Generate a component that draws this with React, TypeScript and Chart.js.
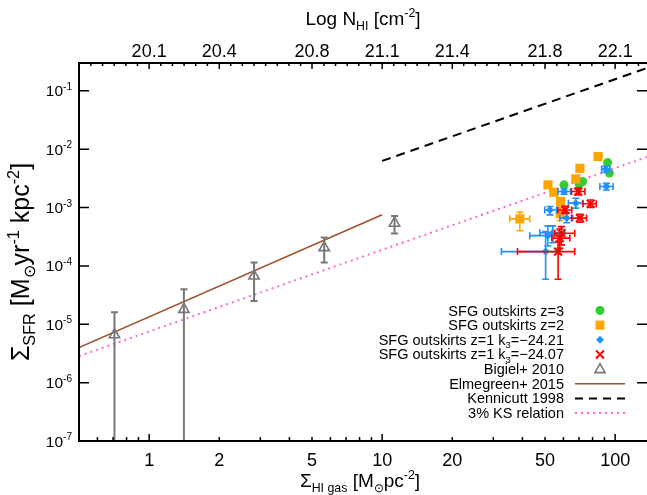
import React, { useEffect, useRef } from 'react';
import { Chart, registerables } from 'chart.js';

Chart.register(...registerables);

const FONT = '"Liberation Sans", Arial, Helvetica, sans-serif';

// ---------- data ----------
// Bigiel+ 2010
const bigielX = [0.71, 1.41, 2.82, 5.64, 11.3];
const bigielY = [6.6e-6, 1.8e-5, 6.7e-5, 2.06e-4, 5.4e-4];
const bigielYLo = [1e-9, 1e-9, 2.5e-5, 1.14e-4, 3.6e-4];
const bigielYHi = [1.6e-5, 4.0e-5, 1.14e-4, 3.06e-4, 7.2e-4];

// SFG outskirts z=3
const z3X = [92.8, 94.5, 60.3, 72.5, 70.2];
const z3Y = [5.9e-3, 3.9e-3, 2.45e-3, 2.8e-3, 2.5e-3];

// SFG outskirts z=2
const z2X = [84.5, 70.6, 67.8, 51.5, 54.6, 58.3, 58.1, 39.0];
const z2Y = [7.5e-3, 4.7e-3, 3.1e-3, 2.45e-3, 1.83e-3, 1.27e-3, 7.9e-4, 6.4e-4];
const z2XLo = [null, null, null, null, null, null, null, 35.3];
const z2XHi = [null, null, null, null, null, null, null, 43.0];
const z2YLo = [null, null, null, null, null, null, 6.0e-4, 4.0e-4];
const z2YHi = [null, null, null, null, null, null, 1.0e-3, 8.3e-4];

// SFG outskirts z=1 k3=-24.21
const k21X = [91.2, 91.7, 60.4, 67.8, 52.5, 61.9, 51.4, 54.0, 50.3];
const k21Y = [4.55e-3, 2.29e-3, 1.88e-3, 1.19e-3, 9.1e-4, 6.6e-4, 3.3e-4, 3.7e-4, 1.76e-4];
const k21XLo = [87.5, 86.0, 56.9, 63.0, 49.9, 57.9, 43.0, 47.5, 32.5];
const k21XHi = [95.0, 98.0, 64.3, 72.5, 56.1, 65.7, 57.9, 60.8, 57.9];
const k21YLo = [4.0e-3, 2.0e-3, 1.7e-3, 9.8e-4, 7.5e-4, 5.5e-4, 2.2e-4, 2.5e-4, 5.9e-5];
const k21YHi = [5.1e-3, 2.6e-3, 2.1e-3, 1.44e-3, 1.04e-3, 8.1e-4, 4.85e-4, 4.85e-4, 3.87e-4];

// SFG outskirts z=1 k3=-24.07
const k07X = [69.4, 78.5, 61.0, 70.6, 58.8, 57.9, 56.9];
const k07Y = [1.88e-3, 1.16e-3, 9.1e-4, 6.6e-4, 3.63e-4, 3.0e-4, 1.76e-4];
const k07XLo = [65.0, 72.8, 56.8, 65.0, 55.1, 53.5, 38.1];
const k07XHi = [74.2, 83.0, 65.1, 75.4, 67.1, 63.9, 67.1];
const k07YLo = [1.65e-3, 1.0e-3, 7.9e-4, 5.6e-4, 2.29e-4, 2.0e-4, 5.9e-5];
const k07YHi = [2.15e-3, 1.35e-3, 1.05e-3, 7.7e-4, 4.72e-4, 4.3e-4, 2.6e-4];

// relations (end points)
const elmX = [0.5, 10];
const elmY = [4.0e-6, 7.5e-4];
const kennX = [10, 137];
const kennY = [6.3e-3, 0.246];
const ksX = [0.5, 137];
const ksY = [2.85e-6, 7.35e-3];

// ---------- axes ----------
const xMin = 0.5;
const xMax = 137;
const yMin = 1e-7;
const yMax = 0.3;
const bottomLabelVals = [1, 2, 5, 10, 20, 50, 100];
const topLabels = ['20.1', '20.4', '20.8', '21.1', '21.4', '21.8', '22.1'];
const xMajor = [1, 10, 100];
const xMinor = [0.6, 0.7, 0.8, 0.9, 2, 3, 4, 5, 6, 7, 8, 9, 20, 30, 40, 50, 60, 70, 80, 90];
const yDecades = [-7, -6, -5, -4, -3, -2, -1];
const topMinorLogSigma = [-0.3, -0.25, -0.2, -0.15, -0.1, -0.05, 0.05, 0.1, 0.15, 0.2, 0.25, 0.35, 0.4, 0.45, 0.5, 0.55, 0.6, 0.65, 0.75, 0.8, 0.85, 0.9, 0.95, 1.05, 1.1, 1.15, 1.2, 1.25, 1.35, 1.4, 1.45, 1.5, 1.55, 1.6, 1.65, 1.75, 1.8, 1.85, 1.9, 1.95, 2.05, 2.1];

const legendLabels = [
  [{ t: 'SFG outskirts z=3' }],
  [{ t: 'SFG outskirts z=2' }],
  [{ t: 'SFG outskirts z=1 k' }, { t: '3', s: 'sub' }, { t: '=\u221224.21' }],
  [{ t: 'SFG outskirts z=1 k' }, { t: '3', s: 'sub' }, { t: '=\u221224.07' }],
  [{ t: 'Bigiel+ 2010' }],
  [{ t: 'Elmegreen+ 2015' }],
  [{ t: 'Kennicutt 1998' }],
  [{ t: '3% KS relation' }],
];

const C_GREEN = '#33cc33';
const C_ORANGE = '#ffa500';
const C_BLUE = '#1e90ff';
const C_RED = '#ff0000';
const C_GRAY = '#777777';
const C_BROWN = '#a0522d';
const C_PINK = '#ff66cc';

type Seg = { t: string; s?: string };

function pts(xs: number[], ys: number[]) {
  return xs.map((x, i) => ({ x, y: ys[i] }));
}

function richWidth(ctx: CanvasRenderingContext2D, segs: Seg[], size: number) {
  let w = 0;
  for (const g of segs) {
    ctx.font = `${g.s ? size * 0.65 : size}px ${FONT}`;
    w += ctx.measureText(g.t).width;
  }
  return w;
}

function drawRich(ctx: CanvasRenderingContext2D, segs: Seg[], x: number, y: number, size: number, align: string) {
  const w = richWidth(ctx, segs, size);
  let cx = align === 'left' ? x : align === 'center' ? x - w / 2 : x - w;
  ctx.textAlign = 'left';
  ctx.textBaseline = 'alphabetic';
  for (const g of segs) {
    const fs = g.s ? size * 0.65 : size;
    ctx.font = `${fs}px ${FONT}`;
    const dy = g.s === 'sub' ? size * 0.25 : g.s === 'sup' ? -size * 0.42 : 0;
    ctx.fillText(g.t, cx, y + dy);
    cx += ctx.measureText(g.t).width;
  }
}

type ErrSpec = {
  xs: number[]; ys: number[];
  xLo?: (number | null)[]; xHi?: (number | null)[];
  yLo?: (number | null)[]; yHi?: (number | null)[];
  color: string; width: number; cap: number;
};

const errByLabel: Record<string, ErrSpec> = {
  bigiel: { xs: bigielX, ys: bigielY, yLo: bigielYLo, yHi: bigielYHi, color: C_GRAY, width: 2, cap: 7 },
  z2: { xs: z2X, ys: z2Y, xLo: z2XLo, xHi: z2XHi, yLo: z2YLo, yHi: z2YHi, color: C_ORANGE, width: 1.6, cap: 7 },
  k21: { xs: k21X, ys: k21Y, xLo: k21XLo, xHi: k21XHi, yLo: k21YLo, yHi: k21YHi, color: C_BLUE, width: 1.6, cap: 7 },
  k07: { xs: k07X, ys: k07Y, xLo: k07XLo, xHi: k07XHi, yLo: k07YLo, yHi: k07YHi, color: C_RED, width: 1.6, cap: 7 },
};

function drawMarker(ctx: CanvasRenderingContext2D, kind: string, x: number, y: number) {
  ctx.save();
  ctx.beginPath();
  if (kind === 'circle') {
    ctx.fillStyle = C_GREEN;
    ctx.arc(x, y, 4.5, 0, Math.PI * 2);
    ctx.fill();
  } else if (kind === 'square') {
    ctx.fillStyle = C_ORANGE;
    ctx.fillRect(x - 4.5, y - 4.5, 9, 9);
  } else if (kind === 'diamond') {
    ctx.fillStyle = C_BLUE;
    ctx.moveTo(x, y - 4); ctx.lineTo(x + 4, y); ctx.lineTo(x, y + 4); ctx.lineTo(x - 4, y); ctx.closePath();
    ctx.fill();
  } else if (kind === 'cross') {
    ctx.strokeStyle = C_RED; ctx.lineWidth = 2;
    ctx.moveTo(x - 4, y - 4); ctx.lineTo(x + 4, y + 4); ctx.moveTo(x + 4, y - 4); ctx.lineTo(x - 4, y + 4);
    ctx.stroke();
  } else if (kind === 'triangle') {
    ctx.strokeStyle = C_GRAY; ctx.lineWidth = 1.6;
    ctx.moveTo(x, y - 5.5); ctx.lineTo(x + 5, y + 3.5); ctx.lineTo(x - 5, y + 3.5); ctx.closePath();
    ctx.stroke();
  } else {
    ctx.lineWidth = kind === 'elm' ? 1.6 : 2;
    ctx.strokeStyle = kind === 'elm' ? C_BROWN : kind === 'kenn' ? '#000' : C_PINK;
    if (kind === 'kenn') ctx.setLineDash([8, 6]);
    if (kind === 'ks') ctx.setLineDash([2, 4]);
    ctx.moveTo(x - 25, y); ctx.lineTo(x + 25, y);
    ctx.stroke();
  }
  ctx.restore();
}

const legendKinds = ['circle', 'square', 'diamond', 'cross', 'triangle', 'elm', 'kenn', 'ks'];

const framePlugin = {
  id: 'frame',
  beforeDatasetDraw(chart: any, args: any) {
    const key = chart.data.datasets[args.index].errKey;
    if (!key) return;
    const e = errByLabel[key];
    const ctx: CanvasRenderingContext2D = chart.ctx;
    const xs = chart.scales.x, ys = chart.scales.y;
    const a = chart.chartArea;
    ctx.save();
    ctx.beginPath();
    ctx.rect(a.left, a.top, a.right - a.left, a.bottom - a.top);
    ctx.clip();
    ctx.strokeStyle = e.color;
    ctx.lineWidth = e.width;
    const h = e.cap / 2;
    for (let i = 0; i < e.xs.length; i++) {
      const px = xs.getPixelForValue(e.xs[i]);
      const py = ys.getPixelForValue(e.ys[i]);
      ctx.beginPath();
      if (e.xLo && e.xLo[i] != null && e.xHi && e.xHi[i] != null) {
        const l = xs.getPixelForValue(e.xLo[i]);
        const r = xs.getPixelForValue(e.xHi[i]);
        ctx.moveTo(l, py); ctx.lineTo(r, py);
        ctx.moveTo(l, py - h); ctx.lineTo(l, py + h);
        ctx.moveTo(r, py - h); ctx.lineTo(r, py + h);
      }
      if (e.yLo && e.yLo[i] != null && e.yHi && e.yHi[i] != null) {
        const b = ys.getPixelForValue(e.yLo[i]);
        const t = ys.getPixelForValue(e.yHi[i]);
        ctx.moveTo(px, b); ctx.lineTo(px, t);
        ctx.moveTo(px - h, b); ctx.lineTo(px + h, b);
        ctx.moveTo(px - h, t); ctx.lineTo(px + h, t);
      }
      ctx.stroke();
    }
    ctx.restore();
  },
  afterDatasetsDraw(chart: any) {
    const ctx: CanvasRenderingContext2D = chart.ctx;
    const xs = chart.scales.x, ys = chart.scales.y;
    const a = chart.chartArea;
    ctx.save();
    ctx.strokeStyle = '#000';
    ctx.fillStyle = '#000';
    // frame
    ctx.lineWidth = 2;
    ctx.beginPath();
    ctx.moveTo(a.right + 2, a.top); ctx.lineTo(a.left, a.top); ctx.lineTo(a.left, a.bottom); ctx.lineTo(a.right + 2, a.bottom);
    ctx.stroke();
    // ticks
    ctx.lineWidth = 1.5;
    ctx.beginPath();
    for (const v of xMajor) {
      const p = xs.getPixelForValue(v);
      ctx.moveTo(p, a.bottom); ctx.lineTo(p, a.bottom - 7);
    }
    for (const v of xMinor) {
      const p = xs.getPixelForValue(v);
      ctx.moveTo(p, a.bottom); ctx.lineTo(p, a.bottom - 4);
    }
    for (const v of bottomLabelVals) {
      const p = xs.getPixelForValue(v);
      ctx.moveTo(p, a.top); ctx.lineTo(p, a.top + 6);
    }
    for (const l of topMinorLogSigma) {
      const p = xs.getPixelForValue(Math.pow(10, l));
      ctx.moveTo(p, a.top); ctx.lineTo(p, a.top + 3);
    }
    for (const d of yDecades) {
      const p = ys.getPixelForValue(Math.pow(10, d));
      ctx.moveTo(a.left, p); ctx.lineTo(a.left + 10, p);
      ctx.moveTo(a.right, p); ctx.lineTo(a.right - 10, p);
    }
    ctx.stroke();
    // bottom labels
    ctx.textAlign = 'center';
    ctx.textBaseline = 'middle';
    ctx.font = `18px ${FONT}`;
    for (const v of bottomLabelVals) {
      ctx.fillText(String(v), xs.getPixelForValue(v), 461);
    }
    // top labels
    bottomLabelVals.forEach((v, i) => {
      ctx.fillText(topLabels[i], xs.getPixelForValue(v), 52);
    });
    // left labels
    for (const d of yDecades) {
      const p = ys.getPixelForValue(Math.pow(10, d));
      drawRich(ctx, [{ t: '10' }, { t: String(d), s: 'sup' }], 72, p + 5.5, 15.5, 'right');
    }
    // titles
    const cx = (a.left + a.right) / 2;
    drawRich(ctx, [{ t: 'Log N' }, { t: 'HI', s: 'sub' }, { t: ' [cm' }, { t: '-2', s: 'sup' }, { t: ']' }], cx, 25, 19, 'center');
    drawRich(ctx, [{ t: '\u03a3' }, { t: 'HI gas', s: 'sub' }, { t: ' [M' }, { t: '\u2299', s: 'sub' }, { t: 'pc' }, { t: '-2', s: 'sup' }, { t: ']' }], 360, 487, 19, 'center');
    ctx.save();
    ctx.translate(29, 262);
    ctx.rotate(-Math.PI / 2);
    drawRich(ctx, [{ t: '\u03a3' }, { t: 'SFR', s: 'sub' }, { t: ' [M' }, { t: '\u2299', s: 'sub' }, { t: 'yr' }, { t: '-1', s: 'sup' }, { t: ' kpc' }, { t: '-2', s: 'sup' }, { t: ']' }], 0, 0, 25, 'center');
    ctx.restore();
    // legend
    legendLabels.forEach((segs, i) => {
      const y = 310.5 + i * 14.65;
      ctx.fillStyle = '#000';
      drawRich(ctx, segs as Seg[], 564, y + 5, 14.5, 'right');
      drawMarker(ctx, legendKinds[i], 600, y);
    });
    ctx.restore();
  },
};

export default function App() {
  const ref = useRef<HTMLCanvasElement | null>(null);
  useEffect(() => {
    if (!ref.current) return;
    const chart = new Chart(ref.current, {
      type: 'scatter',
      data: {
        datasets: [
          {
            label: 'SFG outskirts z=1 k3=-24.07', errKey: 'k07', order: 1,
            data: pts(k07X, k07Y), pointStyle: 'crossRot', pointRadius: 5.5,
            borderColor: C_RED, backgroundColor: C_RED, pointBorderWidth: 2,
          },
          {
            label: 'SFG outskirts z=1 k3=-24.21', errKey: 'k21', order: 2,
            data: pts(k21X, k21Y), pointStyle: 'rectRot', pointRadius: 4,
            borderColor: C_BLUE, backgroundColor: C_BLUE, pointBorderWidth: 0,
          },
          {
            label: 'SFG outskirts z=2', errKey: 'z2', order: 3,
            data: pts(z2X, z2Y), pointStyle: 'rect', pointRadius: 6.5,
            borderColor: C_ORANGE, backgroundColor: C_ORANGE, pointBorderWidth: 0,
          },
          {
            label: 'SFG outskirts z=3', order: 4,
            data: pts(z3X, z3Y), pointStyle: 'circle', pointRadius: 4.5,
            borderColor: C_GREEN, backgroundColor: C_GREEN, pointBorderWidth: 0,
          },
          {
            label: 'Bigiel+ 2010', errKey: 'bigiel', order: 5,
            data: pts(bigielX, bigielY), pointStyle: 'triangle', pointRadius: 6,
            borderColor: C_GRAY, backgroundColor: 'rgba(255,255,255,0)', pointBorderWidth: 1.6,
          },
          {
            label: 'Elmegreen+ 2015', order: 6, type: 'line',
            data: pts(elmX, elmY), showLine: true, pointRadius: 0,
            borderColor: C_BROWN, borderWidth: 1.6,
          },
          {
            label: 'Kennicutt 1998', order: 7, type: 'line',
            data: pts(kennX, kennY), showLine: true, pointRadius: 0,
            borderColor: '#000', borderWidth: 2, borderDash: [9, 6],
          },
          {
            label: '3% KS relation', order: 8, type: 'line',
            data: pts(ksX, ksY), showLine: true, pointRadius: 0,
            borderColor: C_PINK, borderWidth: 2, borderDash: [2, 4],
          },
        ] as any,
      },
      options: {
        animation: false,
        responsive: false,
        layout: { autoPadding: false, padding: { left: 79, top: 63, right: 0, bottom: 54 } },
        plugins: { legend: { display: false }, tooltip: { enabled: false } },
        scales: {
          x: { type: 'logarithmic', min: xMin, max: xMax, display: false },
          y: { type: 'logarithmic', min: yMin, max: yMax, display: false },
        },
      } as any,
      plugins: [framePlugin],
    });
    return () => chart.destroy();
  }, []);
  return (
    <div style={{ position: 'fixed', left: 0, top: 0, width: 647, height: 495, background: '#fff' }}>
      <canvas ref={ref} width={647} height={495} style={{ display: 'block' }} />
    </div>
  );
}
